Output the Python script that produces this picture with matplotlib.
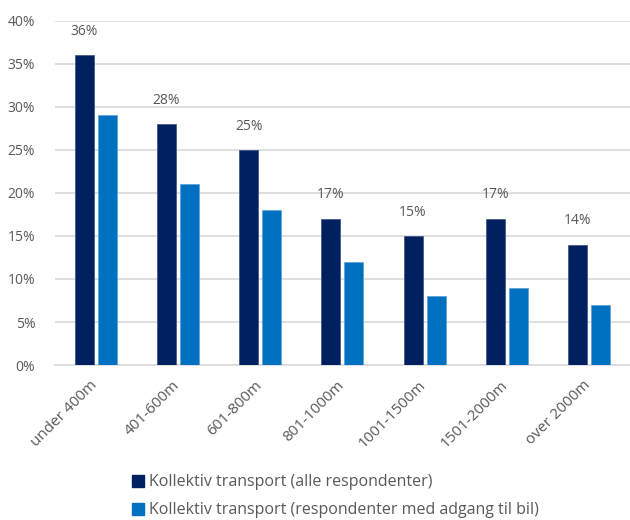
import numpy as np
import matplotlib
matplotlib.use('Agg')
import matplotlib.pyplot as plt
from matplotlib.patches import Patch
from matplotlib.transforms import ScaledTranslation

plt.rcParams['font.family'] = ['Open Sans', 'DejaVu Sans']

# Data
categories = ['under 400m', '401-600m', '601-800m', '801-1000m',
              '1001-1500m', '1501-2000m', 'over 2000m']
alle = [36, 28, 25, 17, 15, 17, 14]
med_bil = [29, 21, 18, 12, 8, 9, 7]
series_names = ['Kollektiv transport (alle respondenter)',
                'Kollektiv transport (respondenter med adgang til bil)']

dark = '#002060'
light = '#0070C0'
text_col = '#595959'

fig = plt.figure(figsize=(6.3, 5.2), dpi=100)
ax = fig.add_axes([0.087, 0.298, 0.913, 0.662])

x = np.arange(len(categories))
w = 0.23
ax.bar(x - 0.14, alle, width=w, color=dark, edgecolor='#3a4f80', linewidth=0.5, zorder=3)
ax.bar(x + 0.14, med_bil, width=w, color=light, edgecolor='#5a9fd6', linewidth=0.5, zorder=3)

for xi, v in zip(x, alle):
    ax.text(xi - 0.14, v + 1.9, f'{v}%', ha='center', va='bottom',
            fontsize=10, color=text_col)

ax.set_xlim(-0.5, len(categories) - 0.5)
ax.set_ylim(0, 40)
ax.set_yticks(np.arange(0, 41, 5))
ax.set_yticklabels([f'{v}%' for v in range(0, 41, 5)], fontsize=10, color=text_col)
ax.yaxis.grid(True, color='#D9D9D9', linewidth=1.2, zorder=0)
ax.set_axisbelow(True)
for s in ['top', 'right', 'left']:
    ax.spines[s].set_visible(False)
ax.spines['bottom'].set_color('#D9D9D9')
ax.spines['bottom'].set_linewidth(1.2)
ax.tick_params(axis='both', length=0)
ax.tick_params(axis='y', pad=14)

ax.set_xticks(x)
ax.set_xticklabels(categories, rotation=45, ha='right', rotation_mode='anchor',
                   fontsize=11, color=text_col)
ax.tick_params(axis='x', pad=9)
for lab in ax.get_xticklabels():
    lab.set_transform(lab.get_transform() + ScaledTranslation(-0.06, 0, fig.dpi_scale_trans))

handles = [Patch(color=dark), Patch(color=light)]
fig.legend(handles, series_names, loc='upper left', bbox_to_anchor=(0.21, 0.088),
           frameon=False, fontsize=11.5, labelcolor=text_col,
           handlelength=0.75, handleheight=0.8, handletextpad=0.3,
           labelspacing=0.75, borderaxespad=0, borderpad=0)

fig.savefig('out.png', dpi=100)
